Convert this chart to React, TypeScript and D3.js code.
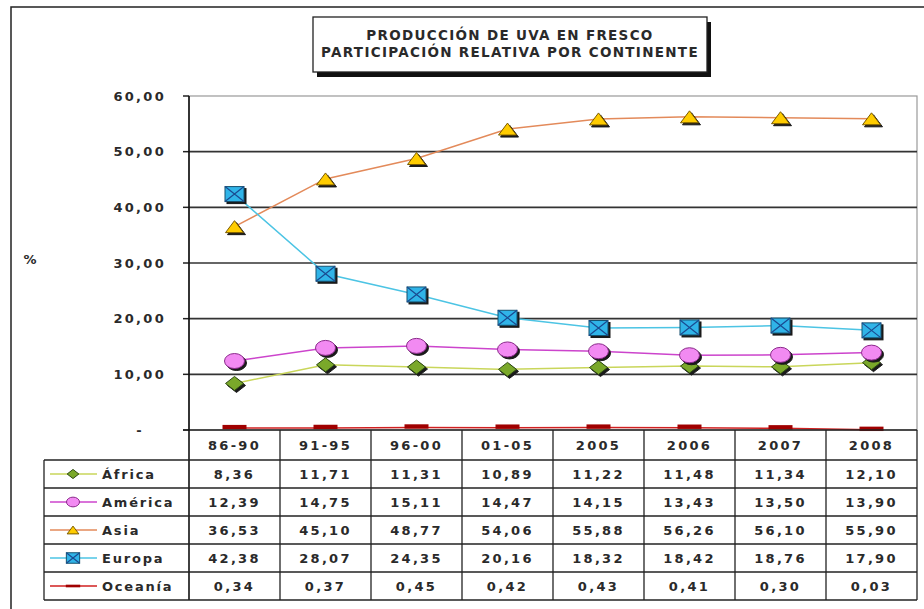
import React from "react";
import * as d3 from "d3";

const categories = ["86-90", "91-95", "96-00", "01-05", "2005", "2006", "2007", "2008"];
const africa = [8.36, 11.71, 11.31, 10.89, 11.22, 11.48, 11.34, 12.1];
const america = [12.39, 14.75, 15.11, 14.47, 14.15, 13.43, 13.5, 13.9];
const asia = [36.53, 45.1, 48.77, 54.06, 55.88, 56.26, 56.1, 55.9];
const europa = [42.38, 28.07, 24.35, 20.16, 18.32, 18.42, 18.76, 17.9];
const oceania = [0.34, 0.37, 0.45, 0.42, 0.43, 0.41, 0.3, 0.03];
const seriesNames = ["África", "América", "Asia", "Europa", "Oceanía"];
const yTicks = [0, 10, 20, 30, 40, 50, 60];
const titleLines = ["PRODUCCIÓN DE UVA EN FRESCO", "PARTICIPACIÓN RELATIVA POR CONTINENTE"];

const W = 924;
const H = 609;
const FONT = "'DejaVu Sans', Verdana, sans-serif";

type Kind = "diamond" | "circle" | "triangle" | "square" | "dash";
const series = [
  { name: seriesNames[0], values: africa, line: "#c9d65a", fill: "#7aa82a", stroke: "#2e4a12", kind: "diamond" as Kind },
  { name: seriesNames[1], values: america, line: "#cc44cc", fill: "#f28af2", stroke: "#8a2a8a", kind: "circle" as Kind },
  { name: seriesNames[2], values: asia, line: "#e38a5a", fill: "#ffcc00", stroke: "#7a5a00", kind: "triangle" as Kind },
  { name: seriesNames[3], values: europa, line: "#4cc4e4", fill: "#30b4e8", stroke: "#16506e", kind: "square" as Kind },
  { name: seriesNames[4], values: oceania, line: "#d02020", fill: "#a00000", stroke: "#700000", kind: "dash" as Kind },
];

const fmt = (v: number) => v.toFixed(2).replace(".", ",");

function Marker({ kind, x, y, s, fill, stroke, shadow }: { kind: Kind; x: number; y: number; s: number; fill: string; stroke: string; shadow: boolean }) {
  const draw = (dx: number, dy: number, f: string, st: string, key: string) => {
    const cx = x + dx;
    const cy = y + dy;
    if (kind === "diamond") {
      const w = 9 * s, h = 7 * s;
      return <path key={key} d={`M${cx - w},${cy}L${cx},${cy - h}L${cx + w},${cy}L${cx},${cy + h}Z`} fill={f} stroke={st} strokeWidth={1} />;
    }
    if (kind === "circle") {
      return <ellipse key={key} cx={cx} cy={cy} rx={10 * s} ry={7.5 * s} fill={f} stroke={st} strokeWidth={1} />;
    }
    if (kind === "triangle") {
      const w = 9 * s, h = 12 * s;
      return <path key={key} d={`M${cx - w},${cy + h / 2}L${cx},${cy - h / 2}L${cx + w},${cy + h / 2}Z`} fill={f} stroke={st} strokeWidth={1} />;
    }
    if (kind === "square") {
      const w = 9.5 * s, h = 7.5 * s;
      return (
        <g key={key}>
          <rect x={cx - w} y={cy - h} width={2 * w} height={2 * h} fill={f} stroke={st} strokeWidth={1} />
          {f !== "#1a1a1a" && (
            <path d={`M${cx - w},${cy - h}L${cx + w},${cy + h}M${cx - w},${cy + h}L${cx + w},${cy - h}`} stroke="#1a4a90" strokeWidth={1.2} />
          )}
        </g>
      );
    }
    const w = 12 * s, h = 2.2 * s;
    return <rect key={key} x={cx - w} y={cy - h} width={2 * w} height={2 * h} fill={f} />;
  };
  return (
    <g>
      {shadow && draw(2, 2, "#1a1a1a", "#1a1a1a", "sh")}
      {draw(0, 0, fill, stroke, "m")}
    </g>
  );
}

export default function App() {
  const left = 189;
  const right = 917;
  const top = 96;
  const zeroY = 430;
  const x = d3.scaleBand<string>().domain(categories).range([left, right]).padding(0);
  const y = d3.scaleLinear().domain([0, 60]).range([zeroY, top]);
  const headerBottom = 460;
  const rowH = 28;
  const tableBottom = headerBottom + rowH * series.length;
  const tableLeft = 44;
  const cx = (c: string) => (x(c) as number) + x.bandwidth() / 2;
  const textStyle = { fontFamily: FONT, fontWeight: 700, fontSize: 13, letterSpacing: 2.3, fill: "#2a2a2a" } as const;

  return (
    <svg width={W} height={H} style={{ position: "absolute", left: 0, top: 0, background: "#fff" }}>
      <rect x={0} y={0} width={W} height={H} fill="#fff" />
      {/* outer border */}
      <path d={`M11,${H}L11,7L${W},7`} fill="none" stroke="#222" strokeWidth={1.5} />

      {/* title box */}
      <rect x={317} y={22} width={394} height={55} fill="#111" />
      <rect x={313} y={17} width={394} height={55} fill="#fff" stroke="#222" strokeWidth={1.3} />
      {titleLines.map((t, i) => (
        <text key={t} x={510} y={40 + i * 17} textAnchor="middle" style={{ fontFamily: FONT, fontWeight: 700, fontSize: 13.5, letterSpacing: 1.3, fill: "#2a2a2a" }}>
          {t}
        </text>
      ))}

      {/* plot border */}
      <rect x={left} y={top} width={right - left} height={zeroY - top} fill="none" stroke="#999" strokeWidth={1.2} />
      {yTicks.filter((t) => t > 0 && t < 60).map((t) => (
        <line key={t} x1={left} x2={right} y1={y(t)} y2={y(t)} stroke="#333" strokeWidth={1.6} />
      ))}
      {yTicks.map((t) => (
        <g key={"tk" + t}>
          <line x1={left - 6} x2={left} y1={y(t)} y2={y(t)} stroke="#222" strokeWidth={1.5} />
          <text x={t === 0 ? 140 : 166} y={y(t)} dy="0.35em" textAnchor={t === 0 ? "middle" : "end"} style={textStyle}>
            {t === 0 ? "-" : fmt(t)}
          </text>
        </g>
      ))}
      <text x={30} y={264} textAnchor="middle" style={{ ...textStyle, letterSpacing: 0 }}>%</text>

      {/* series lines */}
      {series.map((s) => {
        const line = d3
          .line<number>()
          .x((_, i) => cx(categories[i]))
          .y((v) => y(v));
        return <path key={s.name} d={line(s.values) || ""} fill="none" stroke={s.line} strokeWidth={1.5} />;
      })}
      {series.map((s) =>
        s.values.map((v, i) => (
          <Marker key={s.name + i} kind={s.kind} x={cx(categories[i])} y={y(v) - (s.kind === "dash" ? 1 : 0)} s={1} fill={s.fill} stroke={s.stroke} shadow={s.kind !== "dash"} />
        ))
      )}

      {/* data table */}
      <line x1={left - 6} x2={right} y1={zeroY} y2={zeroY} stroke="#222" strokeWidth={1.6} />
      <line x1={left} x2={left} y1={top} y2={tableBottom} stroke="#111" strokeWidth={1.6} />
      {categories.map((c) => (
        <g key={"h" + c}>
          <line x1={(x(c) as number) + x.bandwidth()} x2={(x(c) as number) + x.bandwidth()} y1={zeroY} y2={tableBottom} stroke="#222" strokeWidth={1.3} />
          <text x={cx(c)} y={(zeroY + headerBottom) / 2} dy="0.36em" textAnchor="middle" style={textStyle}>
            {c}
          </text>
        </g>
      ))}
      {d3.range(series.length + 1).map((r) => (
        <line key={"r" + r} x1={tableLeft} x2={right} y1={headerBottom + r * rowH} y2={headerBottom + r * rowH} stroke="#222" strokeWidth={1.3} />
      ))}
      <line x1={tableLeft} x2={tableLeft} y1={headerBottom} y2={tableBottom} stroke="#222" strokeWidth={1.3} />
      {series.map((s, r) => {
        const ry = headerBottom + r * rowH + rowH / 2;
        return (
          <g key={"row" + s.name}>
            <line x1={50} x2={97} y1={ry} y2={ry} stroke={s.line} strokeWidth={1.5} />
            <Marker kind={s.kind} x={73} y={ry} s={s.kind === "square" ? 0.7 : s.kind === "dash" ? 0.6 : 0.65} fill={s.fill} stroke={s.stroke} shadow={false} />
            <text x={102} y={ry} dy="0.36em" style={{ ...textStyle, letterSpacing: 1.8 }}>
              {s.name}
            </text>
            {s.values.map((v, i) => (
              <text key={i} x={cx(categories[i])} y={ry} dy="0.36em" textAnchor="middle" style={textStyle}>
                {fmt(v)}
              </text>
            ))}
          </g>
        );
      })}
    </svg>
  );
}
